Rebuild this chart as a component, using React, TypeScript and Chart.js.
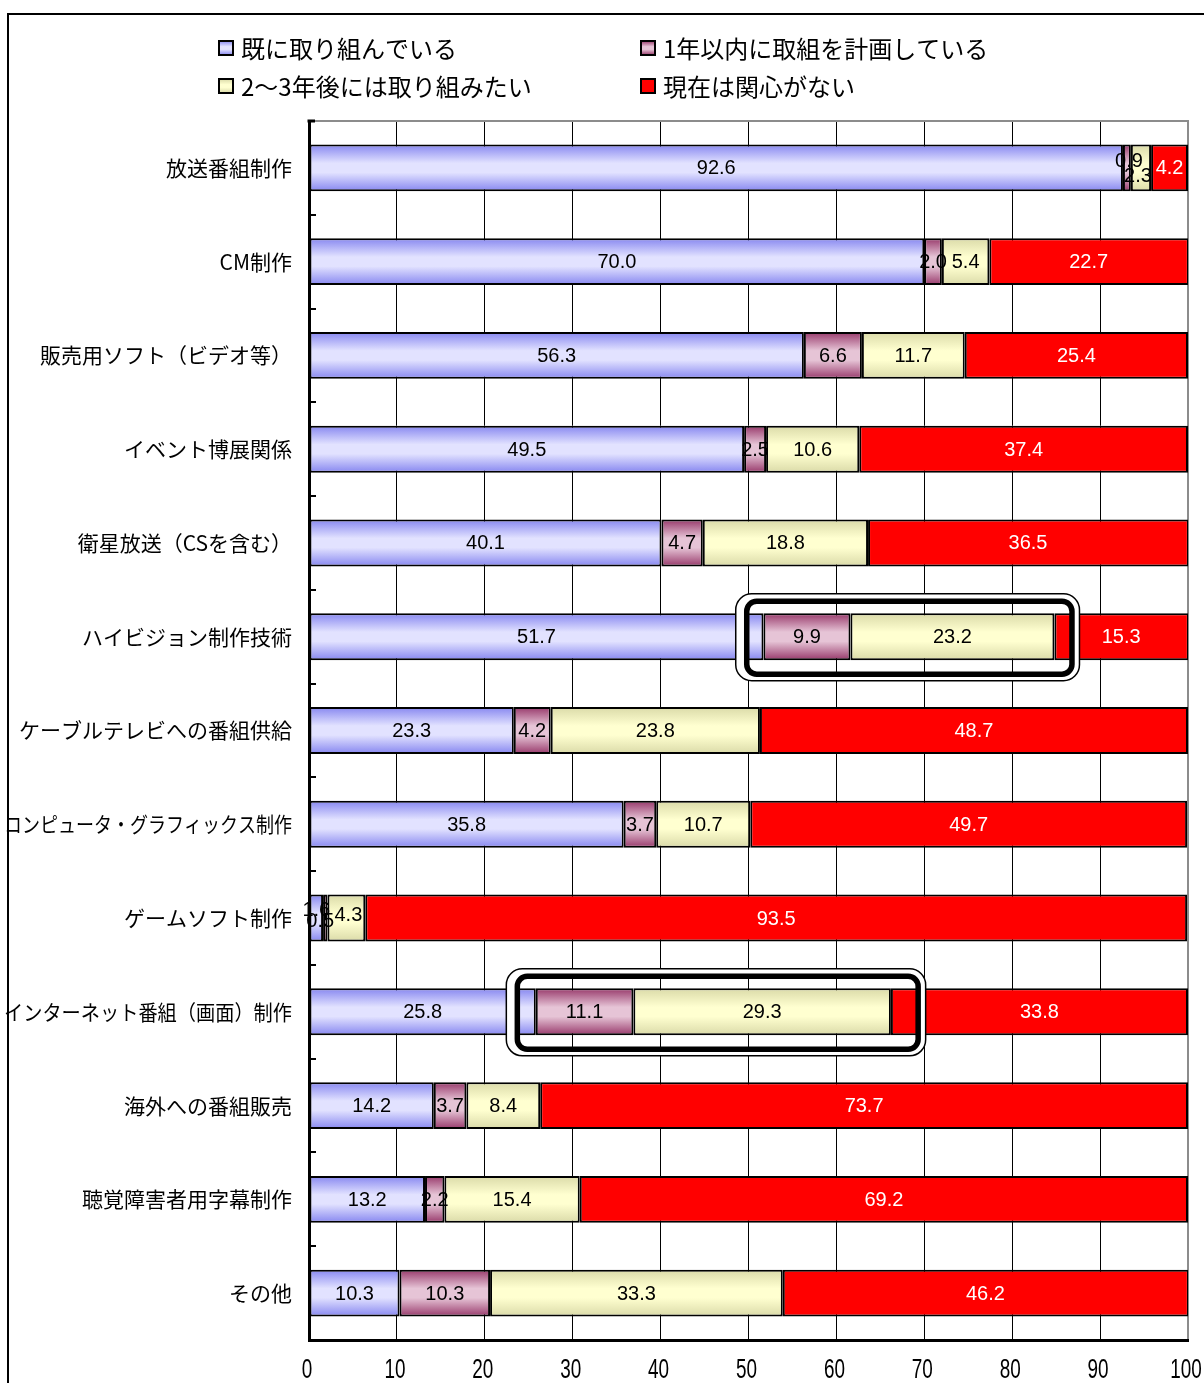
import React, { useEffect, useRef } from 'react';
import { Chart, registerables } from 'chart.js';

Chart.register(...registerables);

const categories = [
  '放送番組制作',
  'CM制作',
  '販売用ソフト（ビデオ等）',
  'イベント博展関係',
  '衛星放送（CSを含む）',
  'ハイビジョン制作技術',
  'ケーブルテレビへの番組供給',
  'コンピュータ・グラフィックス制作',
  'ゲームソフト制作',
  'インターネット番組（画面）制作',
  '海外への番組販売',
  '聴覚障害者用字幕制作',
  'その他',
];

const seriesNames = [
  '既に取り組んでいる',
  '1年以内に取組を計画している',
  '2～3年後には取り組みたい',
  '現在は関心がない',
];

const alreadyDoing = [92.6, 70.0, 56.3, 49.5, 40.1, 51.7, 23.3, 35.8, 1.6, 25.8, 14.2, 13.2, 10.3];
const withinOneYear = [0.9, 2.0, 6.6, 2.5, 4.7, 9.9, 4.2, 3.7, 0.5, 11.1, 3.7, 2.2, 10.3];
const inTwoThreeYears = [2.3, 5.4, 11.7, 10.6, 18.8, 23.2, 23.8, 10.7, 4.3, 29.3, 8.4, 15.4, 33.3];
const noInterest = [4.2, 22.7, 25.4, 37.4, 36.5, 15.3, 48.7, 49.7, 93.5, 33.8, 73.7, 69.2, 46.2];

const xTickValues = [0, 10, 20, 30, 40, 50, 60, 70, 80, 90, 100];

// highlighted ranges (row index, value range of the inner frame)
const highlightRows = [5, 9];
const highlightFrom = [49.8, 23.7];
const highlightTo = [86.8, 69.3];

const palettes: ({ edge: string; mid: string } | null)[] = [
  { edge: '#8686f0', mid: '#e2e2ff' },
  { edge: '#97386a', mid: '#e6c4d6' },
  { edge: '#dadaa8', mid: '#ffffd0' },
  null,
];
const flatColors = ['#b8b8f8', '#c88aa8', '#f4f4c4', '#ff0000'];

const BAR_HALF = 23.5;

function makeGrad(ctx: CanvasRenderingContext2D, top: number, bottom: number, ds: number) {
  const p = palettes[ds];
  if (!p) return flatColors[ds];
  const g = ctx.createLinearGradient(0, top, 0, bottom);
  g.addColorStop(0, p.edge);
  g.addColorStop(0.4, p.mid);
  g.addColorStop(0.6, p.mid);
  g.addColorStop(1, p.edge);
  return g;
}

const labelNudge: Record<string, [number, number]> = {
  '1-0': [2, -7],
  '2-0': [-3, 8],
  '0-8': [0, -9],
  '1-8': [-5, 2],
  '2-8': [2, -4],
};

const FONT_JP = '"Noto Sans CJK JP", "Noto Sans", sans-serif';
const FONT_NUM = '"Liberation Sans", Arial, sans-serif';

const decorPlugin = {
  id: 'decor',
  afterDatasetsDraw(chart: any) {
    const ctx: CanvasRenderingContext2D = chart.ctx;
    const xs = chart.scales.x;
    const ys = chart.scales.y;
    // highlight frames
    highlightRows.forEach((row, k) => {
      const c = ys.getPixelForValue(row);
      const ix1 = xs.getPixelForValue(highlightFrom[k]);
      const ix2 = xs.getPixelForValue(highlightTo[k]);
      const iy1 = c - 35.5;
      const iy2 = c + 37.5;
      const ox1 = ix1 - 11;
      const ox2 = ix2 + 7.5;
      const oy1 = iy1 - 7.5;
      const oy2 = iy2 + 6.5;
      ctx.save();
      ctx.beginPath();
      ctx.roundRect(ox1, oy1, ox2 - ox1, oy2 - oy1, 16);
      ctx.roundRect(ix1, iy1, ix2 - ix1, iy2 - iy1, 10);
      ctx.fillStyle = '#ffffff';
      ctx.fill('evenodd');
      ctx.beginPath();
      ctx.roundRect(ox1, oy1, ox2 - ox1, oy2 - oy1, 16);
      ctx.strokeStyle = '#000';
      ctx.lineWidth = 1.5;
      ctx.stroke();
      ctx.beginPath();
      ctx.roundRect(ix1, iy1, ix2 - ix1, iy2 - iy1, 10);
      ctx.lineWidth = 5.5;
      ctx.stroke();
      ctx.restore();
    });
    // value labels
    ctx.save();
    ctx.font = '20px ' + FONT_NUM;
    ctx.textAlign = 'center';
    ctx.textBaseline = 'middle';
    chart.data.datasets.forEach((ds: any, di: number) => {
      const meta = chart.getDatasetMeta(di);
      meta.data.forEach((bar: any, i: number) => {
        const v = ds.data[i];
        const right = Math.min(bar.x, chart.chartArea.right);
        const cx = (right + bar.base) / 2;
        const nudge = labelNudge[di + '-' + i] || [0, 0];
        ctx.fillStyle = di === 3 ? '#ffffff' : '#000000';
        ctx.fillText(v.toFixed(1), cx + nudge[0], bar.y + 1 + nudge[1]);
      });
    });
    ctx.restore();
  },
  afterDraw(chart: any) {
    const ctx: CanvasRenderingContext2D = chart.ctx;
    const area = chart.chartArea;
    const xs = chart.scales.x;
    const ys = chart.scales.y;
    ctx.save();
    // top gray border
    ctx.strokeStyle = '#8c8c8c';
    ctx.lineWidth = 2;
    ctx.beginPath();
    ctx.moveTo(area.left, area.top);
    ctx.lineTo(area.right + 1, area.top);
    ctx.stroke();
    ctx.strokeStyle = '#000';
    ctx.lineWidth = 3;
    ctx.beginPath();
    ctx.moveTo(area.left - 1.5, area.top);
    ctx.lineTo(area.left + 6, area.top);
    ctx.stroke();
    // inner y tick marks
    ctx.lineWidth = 2;
    for (let i = 0; i < categories.length - 1; i++) {
      const yb = Math.round((ys.getPixelForValue(i) + ys.getPixelForValue(i + 1)) / 2);
      ctx.beginPath();
      ctx.moveTo(area.left, yb);
      ctx.lineTo(area.left + 7, yb);
      ctx.stroke();
    }
    // x tick labels (condensed)
    ctx.fillStyle = '#000';
    ctx.font = '22px ' + FONT_NUM;
    ctx.textAlign = 'center';
    ctx.textBaseline = 'middle';
    xTickValues.forEach((v) => {
      const x = xs.getPixelForValue(v);
      ctx.save();
      ctx.translate(x - 2, area.bottom + 31);
      ctx.scale(0.86, 1.22);
      ctx.fillText(String(v), 0, 0);
      ctx.restore();
    });
    // category labels
    ctx.fillStyle = '#000';
    ctx.font = '21px ' + FONT_JP;
    ctx.textAlign = 'right';
    ctx.textBaseline = 'middle';
    categories.forEach((c, i) => {
      ctx.fillText(c, 292, ys.getPixelForValue(i), 288);
    });
    // legend
    const legendX = [219, 641];
    const legendY = [48, 86];
    seriesNames.forEach((name, k) => {
      const lx = legendX[k % 2];
      const ly = legendY[Math.floor(k / 2)];
      ctx.fillStyle = makeGrad(ctx, ly - 7, ly + 7, k) as any;
      ctx.fillRect(lx, ly - 7, 14, 14);
      ctx.strokeStyle = '#000';
      ctx.lineWidth = 2;
      ctx.strokeRect(lx, ly - 7, 14, 14);
      ctx.fillStyle = '#000';
      ctx.font = '24px ' + FONT_JP;
      ctx.textAlign = 'left';
      ctx.fillText(name, lx + 22, ly + 1);
    });
    // outer frame
    ctx.strokeStyle = '#000';
    ctx.lineWidth = 2;
    ctx.beginPath();
    ctx.moveTo(8, 1383);
    ctx.lineTo(8, 14);
    ctx.lineTo(1204, 14);
    ctx.stroke();
    ctx.restore();
  },
};

export default function App() {
  const ref = useRef<HTMLCanvasElement>(null);
  useEffect(() => {
    if (!ref.current) return;
    const series = [alreadyDoing, withinOneYear, inTwoThreeYears, noInterest];
    const chart = new Chart(ref.current, {
      type: 'bar',
      data: {
        labels: categories,
        datasets: series.map((d, di) => ({
          label: seriesNames[di],
          data: d,
          backgroundColor: (c: any) => {
            const ys = c.chart.scales?.y;
            if (!ys) return flatColors[di];
            const cy = ys.getPixelForValue(c.dataIndex);
            if (!isFinite(cy)) return flatColors[di];
            return makeGrad(c.chart.ctx, cy - BAR_HALF, cy + BAR_HALF, di);
          },
          borderColor: '#000000',
          borderWidth: 2,
          borderSkipped: false,
          barPercentage: 1,
          categoryPercentage: 0.5,
        })),
      },
      options: {
        indexAxis: 'y',
        responsive: false,
        animation: false,
        devicePixelRatio: 1,
        layout: { padding: { top: 121, right: 16, left: 0, bottom: 0 } },
        plugins: { legend: { display: false }, tooltip: { enabled: false } },
        scales: {
          x: {
            stacked: true,
            min: 0,
            max: 100,
            afterBuildTicks: (s: any) => {
              s.ticks = xTickValues.map((v) => ({ value: v }));
            },
            afterFit: (s: any) => {
              s.height = 43;
              s.paddingLeft = 0;
              s.paddingRight = 0;
            },
            ticks: { display: false },
            grid: {
              drawTicks: false,
              color: (c: any) => (c.tick && c.tick.value === 100 ? '#8c8c8c' : '#000000'),
              lineWidth: (c: any) => (c.tick && c.tick.value === 100 ? 2 : 1),
            },
            border: { display: true, color: '#000', width: 3 },
          },
          y: {
            stacked: true,
            ticks: { display: false },
            grid: { display: false, drawTicks: false },
            border: { display: true, color: '#000', width: 3 },
            afterFit: (s: any) => {
              s.width = 309;
              s.paddingTop = 0;
              s.paddingBottom = 0;
            },
          },
        },
      },
      plugins: [decorPlugin],
    } as any);
    return () => chart.destroy();
  }, []);
  return (
    <div style={{ position: 'absolute', left: 0, top: 0, width: 1204, height: 1383, background: '#fff' }}>
      <canvas ref={ref} width={1204} height={1383} style={{ display: 'block', width: 1204, height: 1383 }} />
    </div>
  );
}
